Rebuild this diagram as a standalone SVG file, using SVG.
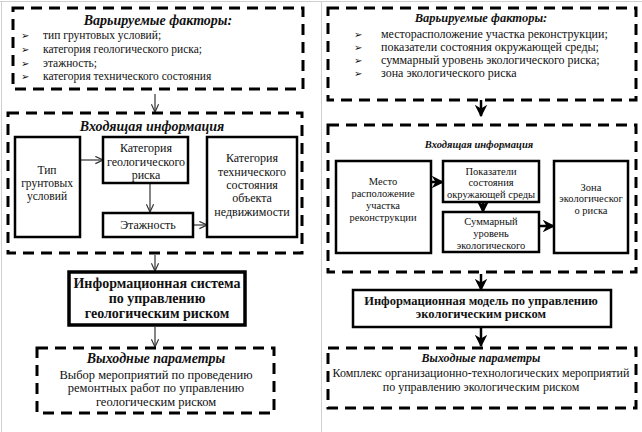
<svg xmlns="http://www.w3.org/2000/svg" width="642" height="432" viewBox="0 0 642 432" font-family="'Liberation Serif', 'DejaVu Serif', serif">
<defs>
<style>
text{font-family:"Liberation Serif","DejaVu Serif",serif;fill:#111}
.t{font-weight:bold;font-style:italic}
.dash{fill:none;stroke:#000;stroke-width:3;stroke-dasharray:11 7}
.box{fill:#fff;stroke:#000;stroke-width:2.5}
.bold{fill:#fff;stroke:#000;stroke-width:3.5}
.la{fill:none;stroke:#333;stroke-width:1.2;marker-end:url(#open)}
.ra{fill:none;stroke:#000;stroke-width:2.5;marker-end:url(#fill)}
.bul{font-family:"DejaVu Sans",sans-serif;font-size:10px}
.c{text-anchor:middle}
</style>
<marker id="open" viewBox="0 0 10 10" refX="9.5" refY="5" markerWidth="9" markerHeight="9" markerUnits="userSpaceOnUse" orient="auto">
<polyline points="1,1 9.5,5 1,9" fill="none" stroke="#333" stroke-width="1.3"/>
</marker>
<marker id="fill" viewBox="0 0 10 10" refX="9" refY="5" markerWidth="5" markerHeight="5" orient="auto">
<path d="M0,0 L10,5 L0,10 L3,5 z" fill="#000"/>
</marker>
</defs>
<rect width="642" height="432" fill="#fff"/>
<g id="table" stroke="#d0d0d0" stroke-width="1">
<line x1="1.5" y1="1" x2="1.5" y2="432"/>
<line x1="0" y1="1.5" x2="642" y2="1.5"/>
<line x1="321.5" y1="1" x2="321.5" y2="432"/>
</g>

<g id="connectors">
<line class="la" x1="155" y1="94" x2="155" y2="112"/>
<line class="la" x1="80" y1="160" x2="103" y2="160"/>
<line class="la" x1="150" y1="183" x2="150" y2="212"/>
<line class="la" x1="193" y1="225" x2="207" y2="225"/>
<line class="la" x1="155" y1="255" x2="155" y2="271"/>
<line class="la" x1="155" y1="327" x2="155" y2="347"/>
<line class="ra" x1="481" y1="100" x2="481" y2="116"/>
<line class="ra" x1="431" y1="182" x2="443" y2="182"/>
<line class="ra" x1="483" y1="202" x2="483" y2="212"/>
<line class="ra" x1="539" y1="226" x2="554" y2="226"/>
<line class="ra" x1="481" y1="274" x2="481" y2="290"/>
<line class="ra" x1="481" y1="328" x2="481" y2="346"/>
</g>

<g id="left-factors">
<rect class="dash" x="13" y="8" width="290" height="81"/>
<text class="t c" x="158" y="25" font-size="14">Варьируемые факторы:</text>
<g font-size="11.5">
<text class="bul" x="21" y="39">➢</text><text x="43" y="39">тип грунтовых условий;</text>
<text class="bul" x="21" y="53">➢</text><text x="43" y="53">категория геологического риска;</text>
<text class="bul" x="21" y="67">➢</text><text x="43" y="67">этажность;</text>
<text class="bul" x="21" y="80">➢</text><text x="43" y="80">категория технического состояния</text>
</g>
</g>

<g id="left-input">
<rect class="dash" x="8" y="113" width="294" height="140"/>
<text class="t c" x="152" y="131" font-size="14">Входящая информация</text>
</g>
<g id="left-soil">
<rect class="box" x="15" y="137" width="65" height="100"/>
<text class="c" x="47" y="174" font-size="11.5">Тип</text>
<text class="c" x="47" y="187" font-size="11.5">грунтовых</text>
<text class="c" x="47" y="200" font-size="11.5">условий</text>
</g>
<g id="left-georisk">
<rect class="box" x="103" y="137" width="85" height="46"/>
<text class="c" x="146" y="152" font-size="12">Категория</text>
<text class="c" x="146" y="166" font-size="12">геологического</text>
<text class="c" x="146" y="179" font-size="12">риска</text>
</g>
<g id="left-floors">
<rect class="box" x="103" y="213" width="90" height="24"/>
<text class="c" x="148" y="229" font-size="12">Этажность</text>
</g>
<g id="left-techstate">
<rect class="box" x="207" y="137" width="90" height="100"/>
<text class="c" x="252" y="162" font-size="12">Категория</text>
<text class="c" x="252" y="176" font-size="12">технического</text>
<text class="c" x="252" y="189" font-size="12">состояния</text>
<text class="c" x="252" y="202" font-size="12">объекта</text>
<text class="c" x="252" y="216" font-size="12">недвижимости</text>
</g>
<g id="left-system">
<rect class="bold" x="69" y="272" width="176" height="53"/>
<text class="c" x="157" y="288" font-size="14" font-weight="bold">Информационная система</text>
<text class="c" x="157" y="303" font-size="14" font-weight="bold">по управлению</text>
<text class="c" x="157" y="318" font-size="14" font-weight="bold">геологическим риском</text>
</g>
<g id="left-output">
<rect class="dash" x="37" y="348" width="237" height="65"/>
<text class="t c" x="156" y="363" font-size="14">Выходные параметры</text>
<text class="c" x="156" y="379" font-size="12.5">Выбор мероприятий по проведению</text>
<text class="c" x="156" y="392" font-size="12.5">ремонтных работ по управлению</text>
<text class="c" x="156" y="406" font-size="12.5">геологическим риском</text>
</g>

<g id="right-factors">
<rect class="dash" x="328" y="8" width="308" height="92"/>
<text class="t c" x="481" y="22" font-size="12.5">Варьируемые факторы:</text>
<g font-size="12">
<text class="bul" x="354" y="38">➢</text><text x="381" y="38">месторасположение участка реконструкции;</text>
<text class="bul" x="354" y="51">➢</text><text x="381" y="51">показатели состояния окружающей среды;</text>
<text class="bul" x="354" y="64">➢</text><text x="381" y="64">суммарный уровень экологического риска;</text>
<text class="bul" x="354" y="77">➢</text><text x="381" y="77">зона экологического риска</text>
</g>
</g>

<g id="right-input">
<rect class="dash" x="328" y="125" width="308" height="147"/>
<text class="t c" x="479" y="148" font-size="10.5">Входящая информация</text>
</g>
<g id="right-location">
<rect class="box" x="336" y="161" width="95" height="92"/>
<text class="c" x="383" y="185" font-size="10.5">Место</text>
<text class="c" x="383" y="197" font-size="10.5">расположение</text>
<text class="c" x="383" y="209" font-size="10.5">участка</text>
<text class="c" x="383" y="221" font-size="10.5">реконструкции</text>
</g>
<g id="right-indicators">
<rect class="box" x="443" y="161" width="96" height="41"/>
<text class="c" x="491" y="175" font-size="10.5">Показатели</text>
<text class="c" x="491" y="186" font-size="10.5">состояния</text>
<text class="c" x="491" y="198" font-size="10.5">окружающей среды</text>
</g>
<g id="right-total">
<rect class="box" x="443" y="212" width="96" height="40"/>
<text class="c" x="491" y="225" font-size="10.5">Суммарный</text>
<text class="c" x="491" y="237" font-size="10.5">уровень</text>
<text class="c" x="491" y="249" font-size="10.5">экологического</text>
</g>
<g id="right-zone">
<rect class="box" x="554" y="161" width="74" height="92"/>
<text class="c" x="591" y="191" font-size="10.5">Зона</text>
<text class="c" x="591" y="202" font-size="10.5">экологическог</text>
<text class="c" x="591" y="214" font-size="10.5">о риска</text>
</g>
<g id="right-model">
<rect class="box" x="353" y="290" width="258" height="37"/>
<text class="c" x="481" y="305" font-size="12.5" font-weight="bold">Информационная модель по управлению</text>
<text class="c" x="481" y="318" font-size="12.5" font-weight="bold">экологическим риском</text>
</g>
<g id="right-output">
<rect class="dash" x="328" y="348" width="308" height="60"/>
<text class="t c" x="481" y="362" font-size="12">Выходные параметры</text>
<text class="c" x="481" y="377" font-size="12">Комплекс организационно-технологических мероприятий</text>
<text class="c" x="481" y="391" font-size="12">по управлению экологическим риском</text>
</g>
</svg>
